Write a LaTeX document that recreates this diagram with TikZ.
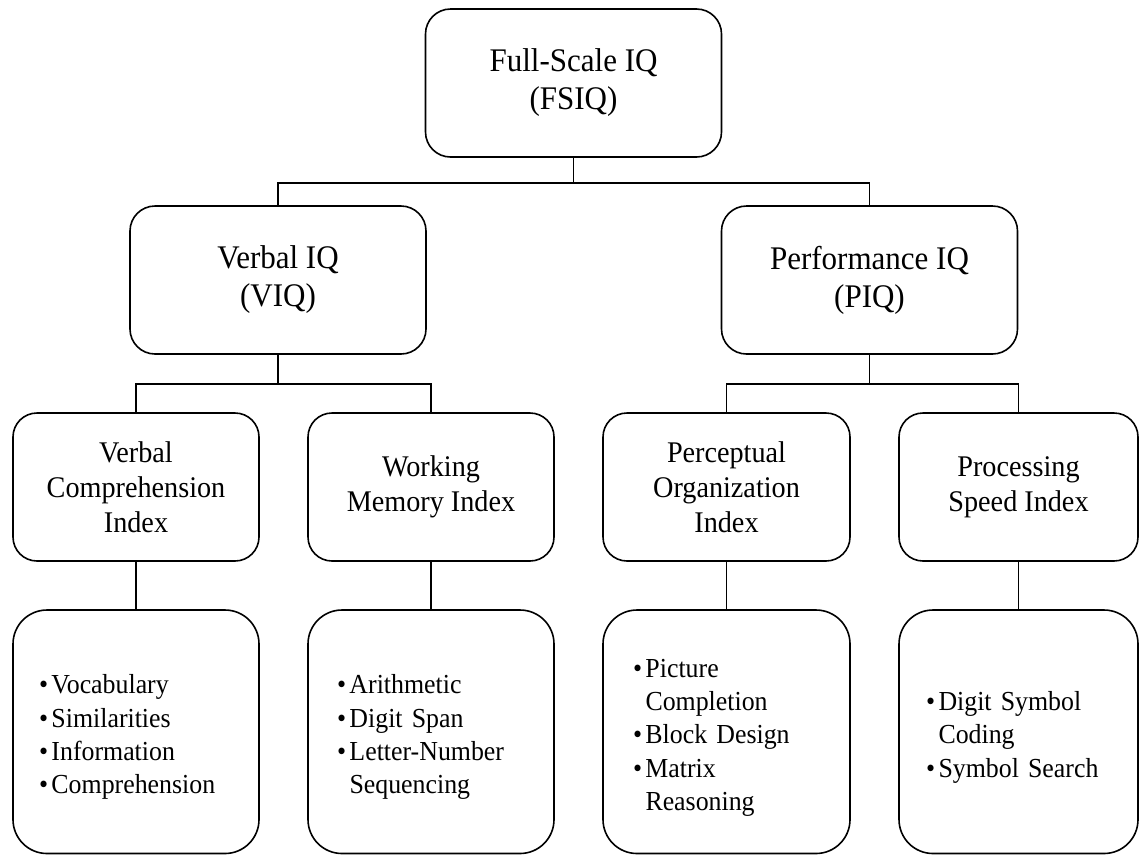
\documentclass[tikz,border=0pt]{standalone}
\usepackage{fontspec}
\setmainfont{Liberation Serif}[FakeStretch=0.94]
\newcommand{\bitem}[1]{\makebox[12.5pt][l]{\textbullet}#1}
\newcommand{\bcont}[1]{\hspace*{12.5pt}#1}
\newcommand{\tstrut}{\rule{0pt}{30pt}}
\begin{document}
\begin{tikzpicture}[x=1pt,y=-1pt,
  line width=1.6pt,
  topbox/.style={draw, rounded corners=25pt, minimum width=296pt, minimum height=148pt,
    align=center, inner sep=0pt, font=\fontsize{33}{38}\selectfont},
  headbox/.style={draw, rounded corners=24pt, minimum height=148pt,
    align=center, inner sep=0pt, font=\fontsize{30}{35}\selectfont},
  listbox/.style={draw, rounded corners=34pt, minimum height=243.5pt,
    align=left, inner xsep=0pt, inner ysep=0pt, font=\fontsize{27.5}{33.3}\selectfont},
  link/.style={line width=1.6pt}
]
\useasboundingbox (0,0) rectangle (1139,855);

% top level
\node[topbox] (fsiq) at (573.5,83) {Full-Scale IQ\\(FSIQ)};
\node[topbox] (viq) at (278,280) {Verbal IQ\\(VIQ)};
\node[topbox] (piq) at (869.5,280) {Performance IQ\\(PIQ)};

% index level
\node[headbox, minimum width=246pt] (vci) at (136,487) {Verbal\\Comprehension\\Index};
\node[headbox, minimum width=246pt] (wmi) at (431,487) {Working\\Memory Index};
\node[headbox, minimum width=247pt] (poi) at (726.5,487) {Perceptual\\Organization\\Index};
\node[headbox, minimum width=239pt] (psi) at (1018.5,487) {Processing\\Speed Index};

% subtests
\node[listbox, minimum width=246pt, text width=194pt] (vcl) at (136,731.75)
  {\tstrut\bitem{Vocabulary}\\\bitem{Similarities}\\\bitem{Information}\\\bitem{Comprehension}};
\node[listbox, minimum width=246pt, text width=188pt] (wml) at (431,731.75)
  {\tstrut\bitem{Arithmetic}\\\bitem{Digit Span}\\\bitem{Letter-Number}\\\bcont{Sequencing}};
\node[listbox, minimum width=247pt, text width=187pt] (pol) at (726.5,731.75)
  {\tstrut\bitem{Picture}\\\bcont{Completion}\\\bitem{Block Design}\\\bitem{Matrix}\\\bcont{Reasoning}};
\node[listbox, minimum width=239pt, text width=185pt] (psl) at (1018.5,731.75)
  {\tstrut\bitem{Digit Symbol}\\\bcont{Coding}\\\bitem{Symbol Search}};

% connectors
\draw[link] (fsiq.south) -- ++(0,-25pt) -| (viq.north);
\draw[link] (fsiq.south) -- ++(0,-25pt) -| (piq.north);
\draw[link] (viq.south) -- ++(0,-29pt) -| (vci.north);
\draw[link] (viq.south) -- ++(0,-29pt) -| (wmi.north);
\draw[link] (piq.south) -- ++(0,-29pt) -| (poi.north);
\draw[link] (piq.south) -- ++(0,-29pt) -| (psi.north);
\draw[link] (vci.south) -- (vcl.north);
\draw[link] (wmi.south) -- (wml.north);
\draw[link] (poi.south) -- (pol.north);
\draw[link] (psi.south) -- (psl.north);
\end{tikzpicture}
\end{document}
